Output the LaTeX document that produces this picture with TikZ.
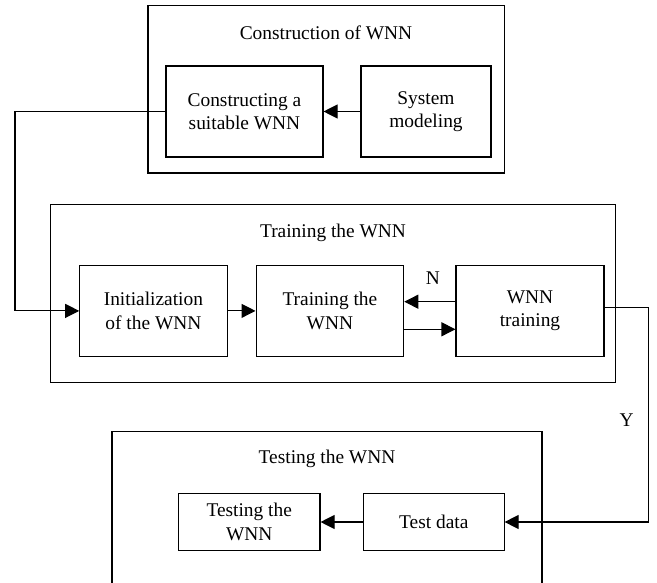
\documentclass[tikz,border=0pt]{standalone}
\usepackage{fontspec}
\setmainfont{Liberation Serif}
\usetikzlibrary{arrows.meta}

\begin{document}
\begin{tikzpicture}[x=1pt,y=-1pt,
        line width=1.1pt,
        font={\fontsize{19.4}{23.3}\selectfont},
        stage/.style={draw,rectangle,align=center,inner sep=0pt,
            minimum height=91pt},
        flow/.style={-{Triangle[length=14pt,width=14pt]}}]
                
                \useasboundingbox (0,0) rectangle (657,583);
                
                % Construction of WNN
                \draw (148,5.7) rectangle (504.3,173);
                \node (titleA) at (326,33) {Construction of WNN};
                \node[stage,minimum width=157pt] (build) at (244.5,111.5)
                {Constructing a\\suitable WNN};
                \node[stage,minimum width=130pt] (model) at (426,111.5)
                {System\\modeling};
                \draw[flow] (model) -- (build);
                
                % Training the WNN
                \draw (50.3,204.7) rectangle (615.7,382.7);
                \node (titleB) at (333,233) {Training the WNN};
                \node[stage,minimum width=147.3pt,minimum height=90.3pt] (init) at (153.4,310.9)
                {Initialization\\of the WNN};
                \node[stage,minimum width=147.7pt,minimum height=90.3pt] (train) at (329.9,310.9)
                {Training the\\WNN};
                \node[stage,minimum width=148pt,minimum height=90.3pt] (check) at (530,310.9)
                {WNN\\training};
                \draw[flow] (init) -- (train);
                \draw[flow] ([yshift=9.2pt]check.west) -- ([yshift=9.2pt]train.east);
                \draw[flow] ([yshift=-18.4pt]train.east) -- ([yshift=-18.4pt]check.west);
                \node (no) at (433,278) {N};
                
                % Testing the WNN
                \draw (112,590) -- (112,431.7) -- (542,431.7) -- (542,590);
                \node (titleC) at (327,459) {Testing the WNN};
                \node[stage,minimum width=141.6pt,minimum height=57.4pt] (test) at (249.2,522)
                {Testing the\\WNN};
                \node[stage,minimum width=140.5pt,minimum height=57.4pt] (data) at (433.8,522)
                {Test data};
                \draw[flow] (data) -- (test);
                
                % links between stages
                \coordinate (left) at (15,0);
                \coordinate (right) at (648.3,0);
                \coordinate (out) at ([yshift=3.6pt]check.east);
                \draw[flow] (build.west) -- (left |- build.west)
                -- (left |- init.west) -- (init.west);
                \draw[flow] (out) -- (right |- out)
                -- (right |- data.east) -- (data.east);
                \node (yes) at (626.6,420) {Y};
                
            \end{tikzpicture}
\end{document}
